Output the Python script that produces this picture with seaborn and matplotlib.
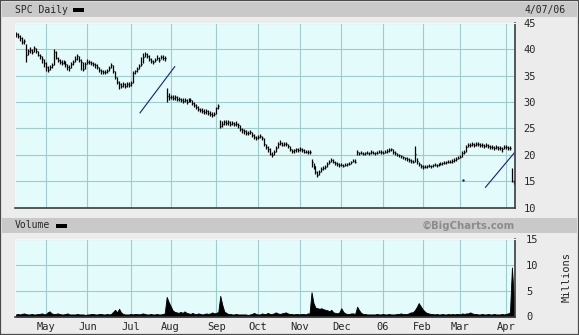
import numpy as np
import pandas as pd
import matplotlib
matplotlib.use("Agg")
import matplotlib.pyplot as plt
from matplotlib.patches import Rectangle
import seaborn as sns

# ---------------- data ----------------
title_text = "SPC Daily"
date_text = "4/07/06"
volume_title = "Volume"
credit_text = "\u00a9BigCharts.com"
volume_unit = "Millions"
month_labels = ["May", "Jun", "Jul", "Aug", "Sep", "Oct", "Nov", "Dec", "06", "Feb", "Mar", "Apr"]
price_ticks = [10, 15, 20, 25, 30, 35, 40, 45]
volume_ticks = [0, 5, 10, 15]
market_holidays = ["2005-05-30", "2005-07-04", "2005-09-05", "2005-11-24",
                   "2005-12-26", "2006-01-02", "2006-01-16", "2006-02-20"]

close = [
    42.8, 42.5, 42.1, 41.4, 41.6, 38.9, 39.6, 39.9, 39.5, 40.2,
    39.6, 38.9, 38.6, 38.1, 37.4, 36.6, 36.0, 36.6, 36.9, 39.5,
    38.4, 37.9, 37.6, 37.4, 37.6, 37.1, 36.6, 36.4, 37.2, 37.6,
    38.2, 38.6, 38.0, 37.5, 36.2, 37.2, 37.6, 37.5, 37.3, 37.2,
    36.9, 36.6, 36.1, 35.8, 35.6, 35.6, 35.8, 36.5, 37.0, 35.9,
    34.7, 33.8, 33.4, 33.0, 33.3, 33.1, 33.4, 33.2, 33.5, 35.5,
    35.8, 36.2, 36.8, 37.2, 38.5, 39.0, 38.6, 38.2, 37.8, 37.5,
    38.0, 38.3, 37.9, 38.5, 38.3, 38.4, 31.2, 30.9, 31.0, 30.8,
    30.9, 30.6, 30.5, 30.4, 30.2, 30.3, 30.0, 30.4, 30.3, 29.8,
    29.5, 29.0, 28.7, 28.5, 28.3, 28.1, 28.2, 27.9, 27.8, 27.6,
    27.7, 28.8, 29.2, 25.4, 25.8, 26.2, 26.0, 26.1, 25.9, 26.0,
    25.8, 25.9, 25.6, 24.8, 24.6, 24.4, 24.2, 24.1, 24.3, 23.8,
    23.3, 23.1, 23.4, 23.5, 23.1, 22.0, 21.4, 21.0, 20.2, 20.0,
    20.6, 21.2, 22.0, 22.3, 21.9, 22.1, 22.0, 21.6, 21.0, 20.7,
    20.8, 21.0, 20.9, 21.0, 20.9, 20.6, 20.6, 20.5, 20.5, 18.6,
    17.8, 16.8, 16.2, 16.7, 17.3, 17.5, 17.7, 18.2, 18.7, 19.0,
    18.7, 18.4, 18.2, 18.0, 18.1, 17.9, 18.1, 18.2, 18.3, 18.6,
    18.9, 18.7, 20.5, 20.3, 20.4, 20.2, 20.3, 20.4, 20.3, 20.5,
    20.4, 20.3, 20.4, 20.6, 20.5, 20.4, 20.6, 20.7,
    20.9, 21.0, 20.5, 20.3, 20.0, 19.9, 19.7, 19.5, 19.3, 19.2,
    19.0, 18.8, 18.7, 20.2, 18.8, 18.2, 17.8, 17.6, 17.7, 17.8,
    17.9, 17.8, 18.0, 18.1, 18.0, 18.2, 18.3, 18.4, 18.5, 18.6,
    18.7, 18.7, 18.8, 19.0, 19.2, 19.4, 19.6, 20.4, 20.6, 21.5,
    21.9, 21.8, 22.0, 21.9, 22.1, 22.0, 21.8, 21.9, 21.7, 21.8,
    21.6, 21.5, 21.4, 21.3, 21.5, 21.2, 21.3, 21.0, 21.4, 21.5,
    21.3, 21.2, 15.1, 14.7,
]

high = [
    43.2, 43.0, 42.7, 42.2, 42.0, 41.0, 40.0, 40.4, 40.1, 40.6,
    40.3, 39.7, 39.1, 38.7, 38.2, 37.5, 36.8, 37.0, 37.3, 40.0,
    39.6, 38.5, 38.1, 37.9, 38.0, 37.7, 37.2, 36.9, 37.5, 38.0,
    38.6, 39.1, 38.7, 38.1, 37.6, 37.6, 38.1, 37.9, 37.7, 37.6,
    37.3, 37.1, 36.6, 36.3, 36.0, 36.0, 36.3, 36.8, 37.4, 37.0,
    35.9, 34.8, 34.0, 33.6, 33.7, 33.6, 33.8, 33.7, 33.9, 35.8,
    36.1, 36.6, 37.2, 38.5, 39.3, 39.4, 39.2, 38.8, 38.3, 37.9,
    38.4, 38.8, 38.5, 38.9, 38.8, 38.7, 32.6, 31.7, 31.4, 31.3,
    31.3, 31.1, 30.9, 30.8, 30.7, 30.8, 30.5, 30.8, 30.7, 30.4,
    29.9, 29.6, 29.2, 28.9, 28.8, 28.6, 28.6, 28.4, 28.2, 28.1,
    28.1, 29.1, 29.6, 26.6, 26.3, 26.6, 26.5, 26.5, 26.4, 26.4,
    26.2, 26.3, 26.0, 25.6, 25.0, 24.9, 24.7, 24.5, 24.7, 24.3,
    23.9, 23.6, 23.8, 23.9, 23.6, 23.2, 22.1, 21.6, 21.2, 20.5,
    20.9, 21.6, 22.4, 22.7, 22.5, 22.5, 22.4, 22.1, 21.6, 21.1,
    21.1, 21.3, 21.2, 21.4, 21.3, 21.0, 20.9, 20.8, 20.8, 19.2,
    18.5, 17.8, 16.9, 17.1, 17.6, 17.9, 18.0, 18.6, 19.0, 19.4,
    19.1, 18.8, 18.6, 18.4, 18.4, 18.3, 18.4, 18.5, 18.6, 18.9,
    19.2, 19.1, 20.8, 20.6, 20.7, 20.5, 20.6, 20.7, 20.6, 20.8,
    20.7, 20.6, 20.7, 20.9, 20.8, 20.7, 20.9, 21.0,
    21.2, 21.3, 21.0, 20.7, 20.4, 20.2, 20.0, 19.8, 19.6, 19.5,
    19.3, 19.1, 19.0, 21.6, 19.3, 18.7, 18.2, 18.0, 18.0, 18.1,
    18.2, 18.1, 18.3, 18.4, 18.3, 18.5, 18.6, 18.7, 18.8, 18.9,
    19.0, 19.0, 19.1, 19.3, 19.5, 19.7, 19.9, 20.7, 20.9, 21.8,
    22.3, 22.2, 22.4, 22.3, 22.5, 22.4, 22.2, 22.3, 22.1, 22.2,
    22.0, 21.9, 21.8, 21.7, 21.9, 21.6, 21.7, 21.4, 21.8, 21.9,
    21.7, 21.6, 17.4, 15.3,
]

low = [
    42.3, 42.1, 41.6, 41.0, 41.0, 37.6, 38.8, 39.3, 39.1, 39.5,
    39.2, 38.6, 38.1, 37.4, 36.6, 35.8, 35.6, 36.1, 36.5, 37.0,
    38.1, 37.5, 37.2, 37.0, 37.1, 36.6, 36.0, 35.9, 36.4, 37.0,
    37.5, 38.0, 37.6, 36.0, 35.8, 36.3, 37.1, 37.1, 36.9, 36.8,
    36.5, 36.2, 35.7, 35.3, 35.2, 35.2, 35.4, 35.8, 36.5, 35.5,
    34.4, 33.3, 32.4, 32.6, 32.8, 32.7, 32.9, 32.8, 33.1, 33.5,
    35.3, 35.7, 36.3, 36.8, 37.3, 38.5, 38.3, 37.8, 37.4, 37.2,
    37.5, 37.9, 37.6, 38.1, 37.9, 37.8, 30.0, 30.3, 30.5, 30.3,
    30.4, 30.2, 30.1, 30.0, 29.8, 29.9, 29.6, 29.9, 29.9, 29.4,
    29.0, 28.6, 28.3, 28.1, 27.9, 27.7, 27.8, 27.5, 27.4, 27.2,
    27.3, 27.8, 28.7, 25.0, 25.3, 25.7, 25.6, 25.7, 25.5, 25.6,
    25.4, 25.5, 25.1, 24.4, 24.2, 24.0, 23.8, 23.7, 23.9, 23.4,
    22.9, 22.7, 23.0, 23.1, 22.7, 21.7, 21.0, 20.5, 19.9, 19.6,
    20.0, 20.6, 21.3, 21.9, 21.6, 21.7, 21.6, 21.2, 20.7, 20.4,
    20.4, 20.6, 20.6, 20.7, 20.5, 20.3, 20.3, 20.2, 20.2, 17.6,
    17.3, 16.4, 15.7, 16.1, 16.7, 17.1, 17.3, 17.6, 18.2, 18.6,
    18.4, 18.1, 17.9, 17.7, 17.8, 17.6, 17.8, 17.9, 18.0, 18.3,
    18.6, 18.4, 20.0, 20.0, 20.1, 19.9, 20.0, 20.1, 20.0, 20.2,
    20.1, 20.0, 20.1, 20.3, 20.2, 20.1, 20.3, 20.4,
    20.6, 20.7, 20.2, 20.0, 19.7, 19.6, 19.4, 19.2, 19.0, 18.9,
    18.7, 18.5, 18.4, 18.6, 18.3, 17.8, 17.4, 17.3, 17.4, 17.5,
    17.6, 17.5, 17.7, 17.8, 17.7, 17.9, 18.0, 18.1, 18.2, 18.3,
    18.4, 18.4, 18.5, 18.7, 18.9, 19.1, 19.3, 19.6, 20.2, 20.6,
    21.5, 21.4, 21.6, 21.5, 21.7, 21.6, 21.4, 21.5, 21.3, 21.4,
    21.2, 21.1, 21.0, 20.9, 21.1, 20.8, 20.9, 20.6, 21.0, 21.1,
    20.9, 20.8, 14.8, 14.4,
]

volume_millions = [
    0.4, 0.5, 0.4, 0.5, 0.6, 0.5, 0.4, 0.4, 0.5, 0.4,
    0.4, 0.5, 0.5, 0.6, 0.5, 0.4, 0.8, 1.0, 0.6, 0.5,
    0.5, 0.6, 0.5, 0.4, 0.4, 0.5, 0.6, 0.4, 0.4, 0.4,
    0.4, 0.5, 0.4, 0.4, 0.4, 0.3, 0.4, 0.4, 0.5, 0.5,
    0.4, 0.4, 0.5, 0.5, 0.4, 0.4, 0.5, 0.4, 0.5, 0.9,
    1.3, 0.8, 1.5, 0.8, 0.5, 0.4, 0.4, 0.4, 0.5, 0.4,
    0.5, 0.5, 0.4, 0.5, 0.6, 0.5, 0.4, 0.4, 0.5, 0.4,
    0.4, 0.5, 0.4, 0.4, 0.5, 0.6, 3.8, 2.8, 2.0, 1.2,
    0.9, 0.8, 0.7, 0.9, 0.7, 1.0, 0.7, 0.6, 0.5, 0.7,
    0.5, 0.5, 0.6, 0.5, 0.4, 0.5, 0.6, 0.5, 0.6, 0.8,
    0.6, 0.7, 0.9, 4.0, 2.3, 1.0, 0.7, 0.5, 0.5, 0.4,
    0.4, 0.5, 0.4, 0.4, 0.4, 0.4, 0.4, 0.3, 0.4, 0.5,
    0.7, 0.5, 0.4, 0.4, 0.6, 0.5, 0.5, 0.7, 0.5, 0.5,
    0.6, 0.8, 0.6, 0.5, 0.6, 0.7, 0.8, 0.6, 0.5, 0.5,
    0.4, 0.5, 0.5, 0.4, 0.5, 0.5, 0.4, 0.6, 0.6, 4.7,
    2.6, 1.7, 1.6, 1.5, 1.6, 1.4, 1.3, 1.2, 1.0, 1.3,
    0.8, 0.7, 0.6, 0.8, 1.6, 0.9, 0.6, 0.5, 0.5, 0.6,
    0.6, 0.5, 1.9, 1.2, 0.7, 0.5, 0.5, 0.4, 0.4, 0.4,
    0.4, 0.4, 0.5, 0.4, 0.4, 0.5, 0.4, 0.4, 0.5, 0.4,
    0.4, 0.4, 0.5, 0.5, 0.6, 0.5, 0.5, 0.5, 0.6, 0.8,
    0.8, 1.2, 1.8, 2.6, 2.0, 1.4, 1.0, 0.7, 0.6, 0.5,
    0.5, 0.4, 0.5, 0.4, 0.4, 0.5, 0.4, 0.4, 0.5, 0.4,
    0.5, 0.4, 0.5, 0.5, 0.4, 0.6, 0.5, 0.6, 0.6, 0.8,
    0.6, 0.5, 0.5, 0.4, 0.4, 0.5, 0.4, 0.4, 0.5, 0.4,
    0.4, 0.5, 0.4, 0.4, 0.4, 0.5, 0.4, 0.5, 0.6, 0.8,
    9.5, 3.5,
]

# blue event lines / marker drawn on the price panel (trading-day index, price)
event_line1_day = [62.5, 80.1]
event_line1_price = [27.9, 36.7]
event_line2_day = [236.6, 251.2]
event_line2_price = [13.8, 20.35]
event_dot_day = [225.5]
event_dot_price = [15.3]

# ---------------- build ----------------
N = min(len(close), len(high), len(low), len(volume_millions))
close, high, low, volume_millions = close[:N], high[:N], low[:N], volume_millions[:N]
cal = pd.bdate_range("2004-12-01", "2006-04-07", freq="C", holidays=market_holidays)
dates = cal[-N:]
df = pd.DataFrame({"date": dates, "day": np.arange(N), "close": close,
                   "high": high, "low": low, "volume": volume_millions})
month_starts = df.loc[df["date"].dt.month != df["date"].dt.month.shift(1), "day"].tolist()[1:]

sns.set_style("white")
plt.rcParams["font.family"] = ["DejaVu Sans"]

W, H = 579, 335
fig = plt.figure(figsize=(W / 100, H / 100), dpi=100)
fig.patch.set_facecolor("#ececec")

def box(x0, y0, x1, y1, color, z=0):
    fig.add_artist(Rectangle((x0 / W, 1 - y1 / H), (x1 - x0) / W, (y1 - y0) / H,
                             transform=fig.transFigure, facecolor=color,
                             edgecolor="none", zorder=z))

# header bands
box(2, 2, 577, 17, "#c9c9c9")
box(2, 218, 577, 233, "#c9c9c9")
# outer frame
fig.add_artist(Rectangle((0, 0), 1, 1, transform=fig.transFigure, fill=False,
                         edgecolor="#4a4a4a", lw=1.6, zorder=5))

mono = "DejaVu Sans Mono"
fig.text(15 / W, 1 - 10 / H, title_text, family=mono, size=7, va="center", ha="left")
box(73, 8, 84, 11.5, "black", 3)
fig.text(566 / W, 1 - 9.5 / H, date_text, family=mono, size=7, va="center", ha="right")
fig.text(15 / W, 1 - 225.5 / H, volume_title, family=mono, size=7, va="center", ha="left")
box(56, 224, 67, 227.5, "black", 3)
fig.text(515 / W, 1 - 225.5 / H, credit_text, size=7.3, weight="bold", color="#8c8c8c",
         va="center", ha="right")
fig.text(567 / W, 1 - 277 / H, volume_unit, family=mono, size=7.5, rotation=90,
         va="center", ha="center")

face = "#e3fbfb"
gridc = "#9ccccc"
xlim = (-0.45, N - 0.45)

ax = fig.add_axes([15 / W, 1 - 207.5 / H, 500 / W, (207.5 - 22.7) / H])
axv = fig.add_axes([15 / W, 1 - 316.5 / H, 500 / W, (316.5 - 239) / H])

for a in (ax, axv):
    a.set_facecolor(face)
    a.set_axisbelow(True)
    a.grid(True, color=gridc, lw=0.8)
    a.set_xlim(*xlim)
    a.set_xticks(month_starts)
    a.yaxis.tick_right()
    a.tick_params(axis="both", length=0, labelsize=7.5)
    a.spines["top"].set_color("#f6f6f6")
    a.spines["left"].set_color("#f6f6f6")
    a.spines["right"].set_color("#3c3c3c")
    a.spines["bottom"].set_color("#3c3c3c")
    for s in ("right", "bottom"):
        a.spines[s].set_linewidth(1.2)

# price panel: OHLC-style bars
ax.vlines(df["day"], df["low"], df["high"], color="black", lw=0.9)
ax.hlines(df["close"], df["day"], df["day"] + 0.5, color="black", lw=0.9)
sns.lineplot(x=event_line1_day, y=event_line1_price, ax=ax, color="#1a1a8c", lw=0.8, sort=False)
sns.lineplot(x=event_line2_day, y=event_line2_price, ax=ax, color="#1a1a8c", lw=0.8, sort=False)
ax.plot(event_dot_day, event_dot_price, ".", color="#1a1a8c", ms=1.5)
ax.set_ylim(10, 45)
ax.set_yticks(price_ticks)
ax.set_yticklabels([str(t) for t in price_ticks], family=mono, size=7.5)
ax.set_xticklabels([])
ax.tick_params(axis="y", pad=6)
ax.set_xlabel("")
ax.set_ylabel("")

# volume panel
axv.fill_between(df["day"], 0, df["volume"], color="black", lw=0.6, edgecolor="black")
axv.set_ylim(0, 15)
axv.set_yticks(volume_ticks)
axv.set_yticklabels([str(t) for t in volume_ticks], family=mono, size=7.5)
axv.set_xticklabels(month_labels[:len(month_starts)], family=mono, size=7.5)
axv.tick_params(axis="y", pad=8)
axv.tick_params(axis="x", pad=4)

fig.savefig("out.png", dpi=100, facecolor=fig.get_facecolor())
